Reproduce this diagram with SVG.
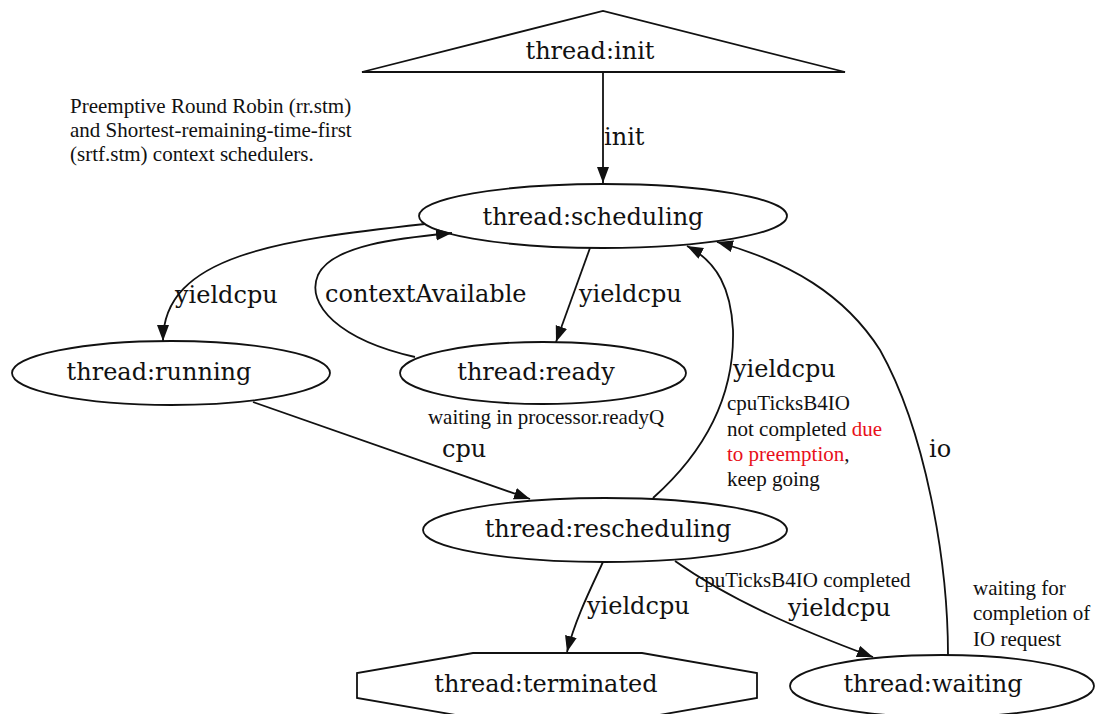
<svg xmlns="http://www.w3.org/2000/svg" width="1097" height="714" viewBox="0 0 1097 714">
<style>
.shape{fill:#fff;stroke:#111;stroke-width:1.8}
.lbl{font-family:"DejaVu Serif",serif;font-size:24px;fill:#111}
.note{font-family:"Liberation Serif","Times New Roman",serif;font-size:21px;fill:#111}
.red{fill:#e8101a}
.edge{fill:none;stroke:#111;stroke-width:1.8}
</style>
<defs>
<marker id="ah" markerUnits="userSpaceOnUse" markerWidth="18" markerHeight="14" refX="16" refY="6" orient="auto">
<path d="M0,0 L16,6 L0,12 Z" fill="#111"/>
</marker>
</defs>
<rect width="1097" height="714" fill="#fff"/>
<g id="note-top">
<text class="note" x="70" y="113">Preemptive Round Robin (rr.stm)</text>
<text class="note" x="70" y="137">and Shortest-remaining-time-first</text>
<text class="note" x="70" y="161">(srtf.stm) context schedulers.</text>
</g>
<g id="init">
<polygon class="shape" points="362,72 603,11 845,72"/>
<text class="lbl" x="590" y="59" text-anchor="middle">thread:init</text>
</g>
<g id="scheduling">
<ellipse class="shape" cx="603" cy="216" rx="184" ry="32"/>
<text class="lbl" x="593" y="225" text-anchor="middle">thread:scheduling</text>
</g>
<g id="running">
<ellipse class="shape" cx="171" cy="373" rx="159" ry="32"/>
<text class="lbl" x="159" y="380" text-anchor="middle">thread:running</text>
</g>
<g id="ready">
<ellipse class="shape" cx="543" cy="373" rx="143" ry="31"/>
<text class="lbl" x="536" y="380" text-anchor="middle">thread:ready</text>
<text class="note" x="546" y="424" text-anchor="middle">waiting in processor.readyQ</text>
</g>
<g id="rescheduling">
<ellipse class="shape" cx="605" cy="530" rx="182" ry="32"/>
<text class="lbl" x="608" y="537" text-anchor="middle">thread:rescheduling</text>
</g>
<g id="terminated">
<polygon class="shape" points="473,653 642,653 757,673 757,698 642,718 473,718 357,698 357,673"/>
<text class="lbl" x="546" y="692" text-anchor="middle">thread:terminated</text>
</g>
<g id="waiting">
<ellipse class="shape" cx="942" cy="686" rx="152" ry="31"/>
<text class="lbl" x="933" y="692" text-anchor="middle">thread:waiting</text>
<text class="note" x="973" y="595">waiting for</text>
<text class="note" x="973" y="620">completion of</text>
<text class="note" x="973" y="646">IO request</text>
</g>
<g id="connectors">
<path class="edge" marker-end="url(#ah)" d="M603,72 L603,183"/>
<text class="lbl" x="604" y="145">init</text>
<path class="edge" marker-end="url(#ah)" d="M425,224 C280,240 163,255 163,341"/>
<text class="lbl" x="175" y="303">yieldcpu</text>
<path class="edge" marker-end="url(#ah)" d="M415,357 C340,340 305,305 318,275 C332,245 400,238 452,233"/>
<text class="lbl" x="325" y="302">contextAvailable</text>
<path class="edge" marker-end="url(#ah)" d="M590,248 L556,342"/>
<text class="lbl" x="579" y="302">yieldcpu</text>
<path class="edge" marker-end="url(#ah)" d="M253,402 L530,499"/>
<text class="lbl" x="442" y="457">cpu</text>
<path class="edge" marker-end="url(#ah)" d="M653,498 C690,465 735,410 733,330 C731,290 718,262 687,246"/>
<text class="lbl" x="733" y="377">yieldcpu</text>
<text class="note" x="727" y="410">cpuTicksB4IO</text>
<text class="note" x="727" y="436">not completed <tspan class="red">due</tspan></text>
<text class="note" x="727" y="461"><tspan class="red">to preemption</tspan>,</text>
<text class="note" x="727" y="486">keep going</text>
<path class="edge" marker-end="url(#ah)" d="M948,655 C948,560 925,430 880,350 C845,295 790,262 717,242"/>
<text class="lbl" x="929" y="457">io</text>
<path class="edge" marker-end="url(#ah)" d="M603,562 C590,590 575,620 567,652"/>
<text class="lbl" x="587" y="614">yieldcpu</text>
<path class="edge" marker-end="url(#ah)" d="M675,561 C730,600 800,630 873,657"/>
<text class="note" x="695" y="587">cpuTicksB4IO completed</text>
<text class="lbl" x="788" y="616">yieldcpu</text>
</g>
</svg>
